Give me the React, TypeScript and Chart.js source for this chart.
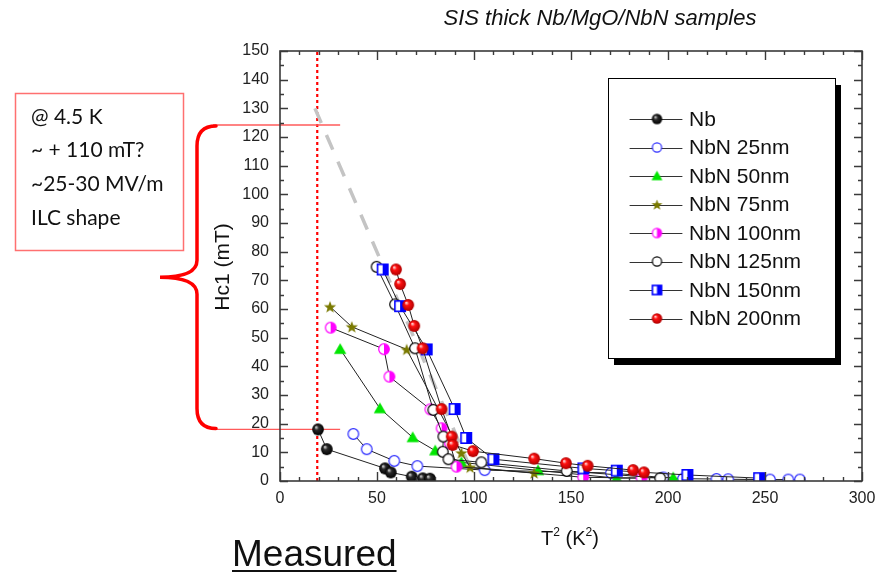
import React, { useEffect, useRef } from 'react';
import { Chart, registerables } from 'chart.js';

Chart.register(...registerables);

// ---------- text ----------
const CHART_TITLE = 'SIS thick Nb/MgO/NbN samples';
const Y_TITLE = 'Hc1 (mT)';
const NOTE_LINES = ['@ 4.5 K', '~ + 110 mT?', '~25-30 MV/m', 'ILC shape'];
const FOOTNOTE = 'Measured';

// ---------- ticks ----------
const X_TICKS = [0, 50, 100, 150, 200, 250, 300];
const Y_TICKS = [0, 10, 20, 30, 40, 50, 60, 70, 80, 90, 100, 110, 120, 130, 140, 150];

// ---------- series ----------
const SERIES_NAMES = ['Nb', 'NbN 25nm', 'NbN 50nm', 'NbN 75nm', 'NbN 100nm', 'NbN 125nm', 'NbN 150nm', 'NbN 200nm'];

const nbT2 = [19.6, 24.1, 54.1, 57.1, 67.9, 73.6, 77.3];
const nbHc1 = [18.0, 11.1, 4.4, 3.0, 1.5, 0.9, 0.8];

const nbn25T2 = [37.8, 44.7, 58.9, 70.8, 105.5, 170.6, 197.6, 207.7, 225, 231, 252.6, 262, 268];
const nbn25Hc1 = [16.4, 11.1, 7.0, 5.2, 3.8, 2.8, 1.2, 0.8, 0.7, 0.6, 0.5, 0.5, 0.5];

const nbn50T2 = [31, 51.5, 68.4, 80, 93.5, 133, 173.5, 202.7];
const nbn50Hc1 = [46, 25.3, 15.2, 10.6, 6.5, 3.7, 1.0, 1.2];

const nbn75T2 = [25.8, 37, 65.3, 93.5, 98, 131];
const nbn75Hc1 = [60.8, 53.8, 45.9, 9.8, 4.8, 2.8];

const nbn100T2 = [26.1, 53.6, 56.4, 77.5, 83.3, 87.6, 91, 156.3, 186.4];
const nbn100Hc1 = [53.5, 46, 36.4, 25, 18.4, 13.1, 5.0, 1.3, 1.0];

const nbn125T2 = [49.8, 59.3, 69.6, 79, 84.2, 83.9, 86.8, 103.8, 147.8, 196];
const nbn125Hc1 = [74.7, 61.6, 46.3, 24.8, 15.5, 10.2, 7.6, 6.5, 3.5, 1.0];

const nbn150T2 = [52.9, 61.9, 75.6, 90, 96, 110, 156.4, 173.6, 210, 247];
const nbn150Hc1 = [73.8, 61, 45.9, 25.1, 15, 7.6, 4.4, 3.6, 2.1, 1.0];

const nbn200T2 = [59.8, 61.9, 66.1, 69.2, 73.5, 83.3, 88.5, 89, 99.5, 131, 147.4, 158.6, 182, 187.6];
const nbn200Hc1 = [73.8, 68.7, 61.4, 54.1, 46.3, 25.1, 15.5, 12.6, 10.4, 7.8, 6.2, 5.3, 3.8, 3.0];

// guide lines
const GUIDE_T2 = [18, 101];
const GUIDE_HC1 = [130, 0];
const OPERATING_T2 = 19.2; // (4.5 K)^2 marker line
const BRACE_HC1 = [124.2, 18.0];
const BRACE_LINE_T2 = [-34.5, 31];

const FONT = "'Liberation Sans', Arial, sans-serif";

type MarkerKind = 'ballBlack' | 'openBlue' | 'triGreen' | 'starOlive' | 'halfMagenta' | 'openBlack' | 'halfSquareBlue' | 'ballRed';
const MARKERS: MarkerKind[] = ['ballBlack', 'openBlue', 'triGreen', 'starOlive', 'halfMagenta', 'openBlack', 'halfSquareBlue', 'ballRed'];

function makeMarker(kind: MarkerKind, r: number): HTMLCanvasElement {
  const s = Math.ceil(2 * r + 4);
  const c = document.createElement('canvas');
  c.width = s;
  c.height = s;
  const g = c.getContext('2d') as CanvasRenderingContext2D;
  const m = s / 2;
  const sphere = (hi: string, base: string, dark: string) => {
    const gr = g.createRadialGradient(m - r * 0.35, m - r * 0.4, r * 0.05, m, m, r);
    gr.addColorStop(0, hi);
    gr.addColorStop(0.35, base);
    gr.addColorStop(1, dark);
    g.beginPath();
    g.arc(m, m, r, 0, Math.PI * 2);
    g.fillStyle = gr;
    g.fill();
  };
  const open = (col: string) => {
    g.beginPath();
    g.arc(m, m, r - 0.6, 0, Math.PI * 2);
    g.fillStyle = '#ffffff';
    g.fill();
    g.lineWidth = 1.2;
    g.strokeStyle = col;
    g.stroke();
  };
  switch (kind) {
    case 'ballBlack':
      sphere('#d8d8d8', '#2a2a2a', '#000000');
      break;
    case 'ballRed':
      sphere('#ffe0e0', '#ff1010', '#b00000');
      break;
    case 'openBlue':
      open('#2b2bff');
      break;
    case 'openBlack':
      open('#000000');
      break;
    case 'triGreen':
      g.beginPath();
      g.moveTo(m, m - r);
      g.lineTo(m + r * 1.05, m + r * 0.8);
      g.lineTo(m - r * 1.05, m + r * 0.8);
      g.closePath();
      g.fillStyle = '#00e600';
      g.fill();
      break;
    case 'starOlive': {
      g.beginPath();
      for (let i = 0; i < 10; i++) {
        const rr = i % 2 === 0 ? r + 0.5 : r * 0.45;
        const a = -Math.PI / 2 + (i * Math.PI) / 5;
        const px = m + rr * Math.cos(a);
        const py = m + 0.6 + rr * Math.sin(a);
        if (i === 0) g.moveTo(px, py);
        else g.lineTo(px, py);
      }
      g.closePath();
      g.fillStyle = '#7a7a00';
      g.fill();
      break;
    }
    case 'halfMagenta':
      g.beginPath();
      g.arc(m, m, r - 0.6, 0, Math.PI * 2);
      g.fillStyle = '#ffffff';
      g.fill();
      g.beginPath();
      g.arc(m, m, r - 0.6, -Math.PI / 2, Math.PI / 2);
      g.closePath();
      g.fillStyle = '#ff00ff';
      g.fill();
      g.beginPath();
      g.arc(m, m, r - 0.6, 0, Math.PI * 2);
      g.lineWidth = 1.2;
      g.strokeStyle = '#ff00ff';
      g.stroke();
      break;
    case 'halfSquareBlue': {
      const side = 2 * r * 0.88;
      const x0 = m - side / 2;
      g.fillStyle = '#ffffff';
      g.fillRect(x0, x0, side, side);
      g.fillStyle = '#0000ff';
      g.fillRect(m, x0, side / 2, side);
      g.lineWidth = 1.6;
      g.strokeStyle = '#0000ff';
      g.strokeRect(x0, x0, side, side);
      break;
    }
  }
  return c;
}

const xs = [nbT2, nbn25T2, nbn50T2, nbn75T2, nbn100T2, nbn125T2, nbn150T2, nbn200T2];
const ys = [nbHc1, nbn25Hc1, nbn50Hc1, nbn75Hc1, nbn100Hc1, nbn125Hc1, nbn150Hc1, nbn200Hc1];

export default function App() {
  const ref = useRef<HTMLCanvasElement | null>(null);

  useEffect(() => {
    if (!ref.current) return;
    const chartMarkers = MARKERS.map((k) => makeMarker(k, 5.9));
    const legendMarkers = MARKERS.map((k) => makeMarker(k, 5.2));

    const pts = (a: number[], b: number[]) => a.map((x, i) => ({ x, y: b[i] }));

    const seriesSets = SERIES_NAMES.map((name, i) => ({
      label: name,
      data: pts(xs[i], ys[i]),
      showLine: true,
      borderColor: '#222222',
      borderWidth: 1,
      backgroundColor: 'transparent',
      pointStyle: chartMarkers[i] as any,
      pointRadius: 6,
      pointHoverRadius: 6,
      order: 10 - i,
    }));

    const guideSets = [
      {
        label: 'guide',
        data: pts(GUIDE_T2, GUIDE_HC1),
        showLine: true,
        borderColor: '#c4c4c4',
        borderWidth: 3.5,
        borderDash: [16, 13],
        pointRadius: 0,
        order: 50,
      },
      {
        label: 'op',
        data: [{ x: OPERATING_T2, y: 0 }, { x: OPERATING_T2, y: 150 }],
        showLine: true,
        borderColor: '#ff0000',
        borderWidth: 2.2,
        borderDash: [3, 3],
        pointRadius: 0,
        order: 60,
      },
      ...BRACE_HC1.map((h) => ({
        label: 'bracket',
        data: pts(BRACE_LINE_T2, [h, h]),
        showLine: true,
        borderColor: '#ff5a5a',
        borderWidth: 1.4,
        pointRadius: 0,
        clip: false as any,
        order: 55,
      })),
    ];

    const decor = {
      id: 'decor',
      afterDraw(chart: any) {
        const ctx: CanvasRenderingContext2D = chart.ctx;
        const { left, top, right, bottom } = chart.chartArea;
        const xS = chart.scales.x;
        const yS = chart.scales.y;
        ctx.save();

        // frame + inward ticks
        ctx.strokeStyle = '#3a3a3a';
        ctx.lineWidth = 1.4;
        ctx.beginPath();
        for (let v = 0; v <= 150; v += 5) {
          const py = Math.round(yS.getPixelForValue(v)) + 0.5;
          const len = v % 10 === 0 ? 8 : 4;
          ctx.moveTo(left, py);
          ctx.lineTo(left + len, py);
          ctx.moveTo(right, py);
          ctx.lineTo(right - len, py);
        }
        for (let v = 0; v <= 300; v += 10) {
          const px = Math.round(xS.getPixelForValue(v)) + 0.5;
          const len = v % 50 === 0 ? 9 : 4;
          ctx.moveTo(px, bottom);
          ctx.lineTo(px, bottom - len);
          ctx.moveTo(px, top);
          ctx.lineTo(px, top + len);
        }
        ctx.stroke();
        ctx.lineWidth = 1.6;
        ctx.strokeRect(left, top, right - left, bottom - top);

        // title
        ctx.fillStyle = '#111';
        ctx.textAlign = 'center';
        ctx.textBaseline = 'middle';
        ctx.font = `italic 22px ${FONT}`;
        ctx.fillText(CHART_TITLE, 600, 19);

        // y title
        ctx.save();
        ctx.translate(223, 267);
        ctx.rotate(-Math.PI / 2);
        ctx.font = `21px ${FONT}`;
        ctx.fillText(Y_TITLE, 0, 0);
        ctx.restore();

        // x title T² (K²)
        ctx.textAlign = 'left';
        ctx.textBaseline = 'alphabetic';
        const big = `20px ${FONT}`;
        const small = `12px ${FONT}`;
        const parts: [string, string, number][] = [
          ['T', big, 0],
          ['2', small, -9],
          [' (K', big, 0],
          ['2', small, -9],
          [')', big, 0],
        ];
        let total = 0;
        for (const [t, f] of parts) {
          ctx.font = f;
          total += ctx.measureText(t).width;
        }
        let cx = 570 - total / 2;
        for (const [t, f, dy] of parts) {
          ctx.font = f;
          ctx.fillText(t, cx, 545 + dy);
          cx += ctx.measureText(t).width;
        }

        // Measured
        ctx.font = `37px ${FONT}`;
        ctx.fillText(FOOTNOTE, 232, 566);
        const mw = ctx.measureText(FOOTNOTE).width;
        ctx.fillRect(232, 570, mw, 2);

        // note box
        ctx.strokeStyle = '#ff7070';
        ctx.lineWidth = 1.5;
        ctx.strokeRect(15.5, 93.5, 168, 157);
        ctx.fillStyle = '#111';
        ctx.font = `21px Lato, 'Open Sans', sans-serif`;
        ctx.textBaseline = 'middle';
        NOTE_LINES.forEach((t, i) => ctx.fillText(t, 31, 117 + i * 33.7));

        // brace
        const yT = yS.getPixelForValue(BRACE_HC1[0]) + 1;
        const yB = yS.getPixelForValue(BRACE_HC1[1]) - 1;
        const mid = (yT + yB) / 2;
        const xr = 216;
        const xv = 197;
        const xp = 160;
        ctx.strokeStyle = '#ff0000';
        ctx.lineWidth = 3.5;
        ctx.lineCap = 'round';
        ctx.beginPath();
        ctx.moveTo(xr, yT);
        ctx.quadraticCurveTo(xv, yT, xv, yT + 20);
        ctx.lineTo(xv, mid - 17);
        ctx.quadraticCurveTo(xv, mid, xp, mid);
        ctx.quadraticCurveTo(xv, mid, xv, mid + 17);
        ctx.lineTo(xv, yB - 20);
        ctx.quadraticCurveTo(xv, yB, xr, yB);
        ctx.stroke();

        // legend
        const L = 608, T = 78, R = 835, B = 358;
        ctx.fillStyle = '#000';
        ctx.fillRect(L + 6, T + 7, R - L, B - T);
        ctx.fillStyle = '#fff';
        ctx.fillRect(L, T, R - L, B - T);
        ctx.strokeStyle = '#000';
        ctx.lineWidth = 1;
        ctx.strokeRect(L + 0.5, T + 0.5, R - L, B - T);
        ctx.font = `21px ${FONT}`;
        ctx.textAlign = 'left';
        ctx.textBaseline = 'middle';
        SERIES_NAMES.forEach((name, i) => {
          const yy = 119 + i * 28.5;
          ctx.strokeStyle = '#333';
          ctx.lineWidth = 1;
          ctx.beginPath();
          ctx.moveTo(630, Math.round(yy) + 0.5);
          ctx.lineTo(682, Math.round(yy) + 0.5);
          ctx.stroke();
          const mk = legendMarkers[i];
          ctx.drawImage(mk, 657 - mk.width / 2, yy - mk.height / 2);
          ctx.fillStyle = '#111';
          ctx.fillText(name, 689, yy + 1);
        });

        ctx.restore();
      },
    };

    const chart = new Chart(ref.current, {
      type: 'scatter',
      data: { datasets: [...seriesSets, ...guideSets] as any },
      options: {
        animation: false,
        responsive: false,
        devicePixelRatio: 1,
        events: [],
        layout: { padding: { top: 51, right: 13, bottom: 0, left: 0 } },
        plugins: {
          legend: { display: false },
          title: { display: false },
          tooltip: { enabled: false },
        },
        scales: {
          x: {
            type: 'linear',
            min: 0,
            max: 300,
            afterBuildTicks: (s: any) => {
              s.ticks = X_TICKS.map((v) => ({ value: v }));
            },
            afterFit: (s: any) => {
              s.height = 94;
              s.paddingLeft = 0;
              s.paddingRight = 0;
            },
            grid: { display: false, drawTicks: false },
            border: { display: false },
            ticks: { padding: 8, color: '#222', font: { family: FONT, size: 16 }, maxRotation: 0 },
          },
          y: {
            type: 'linear',
            min: 0,
            max: 150,
            afterBuildTicks: (s: any) => {
              s.ticks = Y_TICKS.map((v) => ({ value: v }));
            },
            afterFit: (s: any) => {
              s.width = 280;
              s.paddingTop = 0;
              s.paddingBottom = 0;
            },
            grid: { display: false, drawTicks: false },
            border: { display: false },
            ticks: { padding: 11, color: '#222', font: { family: FONT, size: 16 } },
          },
        },
      },
      plugins: [decor],
    });
    return () => chart.destroy();
  }, []);

  return (
    <div style={{ position: 'absolute', left: 0, top: 0, width: 875, height: 575, background: '#fff' }}>
      <canvas ref={ref} width={875} height={575} style={{ width: 875, height: 575, display: 'block' }} />
    </div>
  );
}
